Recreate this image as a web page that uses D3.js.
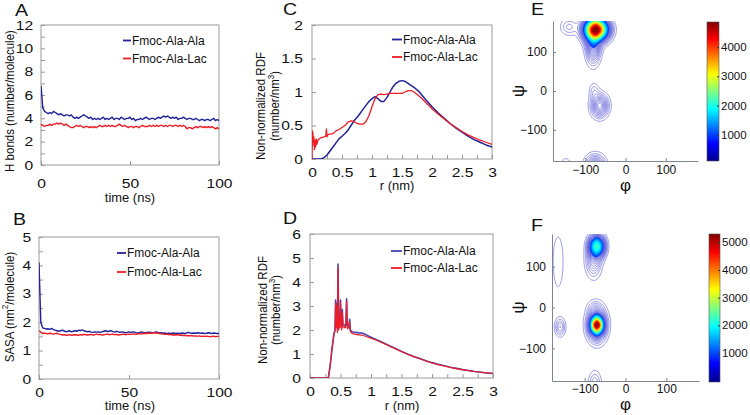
<!DOCTYPE html>
<html>
<head>
<meta charset="utf-8">
<script src="https://cdn.jsdelivr.net/npm/d3@7"></script>
<style>
body { margin: 0; background: #fff; }
svg { display: block; font-family: "Liberation Sans", Arial, sans-serif; }
</style>
</head>
<body>
<svg id="fig" width="750" height="415"></svg>
<script>

// ---------- data ----------
const timeNs = d3.range(0, 101, 1);

const hbAla = [6.8,4.9,4.6,4.5,4.4,4.5,4.4,4.6,4.5,4.4,
  4.3,4.4,4.3,4.2,4.3,4.3,4.2,4.3,4.1,4.0,
  4.1,4.0,4.1,4.2,4.3,4.2,4.1,4.0,4.1,3.9,
  4.0,3.9,4.0,3.9,4.0,4.1,3.9,4.0,3.9,4.0,
  4.1,3.9,4.0,4.0,3.9,4.1,4.0,3.9,4.0,4.0,
  4.1,3.9,4.0,3.8,3.9,3.9,4.0,3.9,4.0,4.1,
  4.0,3.9,4.0,4.0,3.9,4.0,4.1,4.0,4.1,4.2,
  4.1,4.2,4.1,4.0,4.1,4.0,4.1,3.9,4.0,4.0,
  4.1,4.0,3.9,4.0,4.0,3.9,3.9,4.0,3.9,3.8,
  3.9,3.9,3.8,3.9,3.9,3.8,3.9,4.0,3.8,3.9,
  3.8];

const hbLac = [3.5,3.4,3.3,3.4,3.4,3.5,3.4,3.5,3.5,3.6,
  3.5,3.6,3.5,3.4,3.5,3.4,3.3,3.2,3.2,3.3,
  3.4,3.3,3.4,3.3,3.2,3.3,3.3,3.2,3.3,3.2,
  3.3,3.2,3.3,3.4,3.3,3.3,3.4,3.3,3.4,3.3,
  3.4,3.3,3.3,3.4,3.5,3.4,3.3,3.4,3.3,3.2,
  3.3,3.3,3.2,3.3,3.3,3.2,3.3,3.4,3.3,3.3,
  3.3,3.4,3.3,3.4,3.3,3.4,3.3,3.4,3.4,3.3,
  3.4,3.3,3.4,3.4,3.3,3.4,3.4,3.3,3.4,3.3,
  3.4,3.3,3.1,3.2,3.2,3.1,3.2,3.3,3.2,3.3,
  3.3,3.2,3.3,3.2,3.3,3.2,3.3,3.2,3.1,3.2,
  3.1];

const sasaAla = [4.1,2.0,1.8,1.78,1.76,1.77,1.75,1.78,1.74,1.72,
  1.7,1.68,1.7,1.72,1.69,1.66,1.68,1.7,1.66,1.68,
  1.7,1.68,1.72,1.7,1.73,1.7,1.68,1.66,1.68,1.65,
  1.64,1.66,1.65,1.66,1.64,1.66,1.68,1.7,1.67,1.69,
  1.7,1.67,1.65,1.68,1.66,1.64,1.66,1.65,1.63,1.64,
  1.66,1.64,1.66,1.65,1.63,1.62,1.64,1.66,1.64,1.63,
  1.64,1.65,1.64,1.63,1.64,1.66,1.64,1.62,1.63,1.61,
  1.62,1.6,1.61,1.6,1.61,1.62,1.6,1.61,1.6,1.61,
  1.62,1.6,1.62,1.64,1.62,1.61,1.62,1.61,1.63,1.62,
  1.61,1.62,1.6,1.61,1.63,1.62,1.6,1.62,1.61,1.6,
  1.6];

const sasaLac = [1.7,1.65,1.6,1.62,1.6,1.59,1.61,1.6,1.58,1.6,
  1.61,1.58,1.57,1.55,1.56,1.54,1.55,1.56,1.54,1.55,
  1.56,1.55,1.54,1.56,1.55,1.57,1.56,1.55,1.56,1.57,
  1.55,1.56,1.58,1.56,1.57,1.55,1.56,1.57,1.58,1.56,
  1.57,1.58,1.56,1.57,1.55,1.56,1.57,1.58,1.56,1.57,
  1.58,1.57,1.59,1.58,1.57,1.59,1.6,1.59,1.6,1.61,
  1.6,1.62,1.61,1.62,1.63,1.62,1.61,1.6,1.59,1.58,
  1.57,1.58,1.56,1.57,1.55,1.56,1.55,1.56,1.54,1.55,
  1.53,1.54,1.52,1.53,1.52,1.53,1.51,1.52,1.51,1.52,
  1.5,1.51,1.5,1.51,1.5,1.49,1.5,1.51,1.49,1.5,
  1.5];

// panel C
const rCAla = [0,0.15,0.2,0.25,0.3,0.35,0.4,0.45,0.5,0.55,0.6,0.65,0.7,0.75,0.8,0.85,0.9,0.95,1.0,1.05,
  1.1,1.15,1.2,1.25,1.3,1.35,1.4,1.45,1.5,1.55,1.6,1.65,1.7,1.8,1.9,2.0,2.1,2.2,2.3,2.4,2.5,2.6,2.7,2.8,2.9,3.0];
const rdfCAla = [0,0,0.02,0.06,0.12,0.18,0.24,0.3,0.34,0.38,0.43,0.5,0.57,0.62,0.68,0.74,0.8,0.86,0.9,0.93,
  0.9,0.86,0.86,0.92,1.0,1.08,1.13,1.16,1.17,1.16,1.13,1.1,1.07,0.99,0.88,0.78,0.69,0.61,0.53,0.46,0.4,0.34,0.29,0.25,0.21,0.18];
const rCLac = [0,0.005,0.01,0.015,0.02,0.03,0.04,0.05,0.06,0.07,0.08,0.1,0.12,0.15,0.2,0.23,0.24,0.25,0.26,
  0.3,0.35,0.4,0.45,0.5,0.55,0.6,0.65,0.7,0.75,0.8,0.85,0.9,0.95,1.0,1.05,1.1,1.15,1.2,1.25,1.3,
  1.4,1.5,1.55,1.6,1.65,1.7,1.8,1.9,2.0,2.1,2.2,2.3,2.4,2.5,2.6,2.7,2.8,2.9,3.0];
const rdfCLac = [0,0.42,0.2,0.4,0.25,0.33,0.14,0.28,0.18,0.3,0.22,0.28,0.3,0.32,0.33,0.34,0.45,0.33,0.36,
  0.37,0.38,0.42,0.44,0.47,0.5,0.55,0.57,0.56,0.53,0.52,0.52,0.56,0.65,0.78,0.9,0.96,0.97,0.96,0.97,0.98,
  0.98,0.98,1.0,1.02,1.02,1.0,0.93,0.84,0.75,0.67,0.6,0.53,0.47,0.41,0.36,0.32,0.28,0.25,0.22];

// panel D
const rD = [0,0.25,0.3,0.33,0.36,0.39,0.41,0.42,0.43,0.44,0.45,0.46,0.47,0.48,0.49,0.5,0.51,0.52,0.53,0.54,
  0.56,0.58,0.59,0.6,0.61,0.62,0.64,0.65,0.66,0.68,0.7,0.75,0.8,0.85,0.9,0.95,1.0,
  1.1,1.2,1.3,1.4,1.5,1.6,1.7,1.8,1.9,2.0,2.1,2.2,2.3,2.4,2.5,2.6,2.7,2.8,2.9,3.0];
const rdfDAla = [0,0,0,0.5,1.2,1.8,2.0,3.25,2.3,3.1,2.0,4.75,2.1,2.6,2.2,3.25,2.3,2.1,2.85,2.25,
  2.2,2.15,2.35,3.3,2.2,2.15,2.25,2.45,2.0,1.95,1.92,1.9,1.88,1.87,1.83,1.76,1.7,
  1.58,1.47,1.35,1.23,1.11,1.0,0.9,0.81,0.72,0.64,0.57,0.51,0.45,0.4,0.35,0.31,0.27,0.24,0.21,0.19];
const rdfDLac = [0,0,0,0.5,1.2,1.75,2.0,3.1,2.1,3.0,1.9,4.6,2.0,2.5,2.1,3.15,2.2,2.0,2.75,2.15,
  2.1,2.1,2.3,3.2,2.1,2.05,2.15,2.35,1.95,1.88,1.85,1.82,1.8,1.78,1.75,1.7,1.66,
  1.56,1.45,1.33,1.22,1.1,0.99,0.89,0.8,0.71,0.63,0.56,0.5,0.44,0.39,0.35,0.31,0.27,0.24,0.21,0.19];

const seriesNames = ['Fmoc-Ala-Ala', 'Fmoc-Ala-Lac'];

const peaksE = [
  [-73, 158, 4700, 17, 17],
  [-80, 125, 900, 11, 30],
  [-140, 165, 200, 14, 14],
  [-64, -38, 700, 13, 18],
  [-78, 0, 150, 8, 14],
  [-75, -195, 700, 15, 18],
  [-148, -190, 90, 12, 18]
];
const peaksF = [
  [-70, -43, 4300, 8, 12],
  [-70, -42, 1100, 14, 24],
  [-75, 0, 120, 12, 12],
  [-70, 150, 2200, 11, 16],
  [-78, 115, 400, 12, 25],
  [-165, 112, 100, 12, 60],
  [-160, -48, 300, 8, 14],
  [-75, -190, 260, 10, 21]
];
const cbTicks = { E: [1000, 2000, 3000, 4000], F: [1000, 2000, 3000, 4000, 5000] };
const cbRange = { E: [110, 4850], F: [-50, 5300] };
const angleTicks = [-100, 0, 100];

// ---------- helpers ----------
const svg = d3.select('#fig');
const SX = 1.2;
const frameCol = '#9a9a9a';
const blue = '#22229a', red = '#ee1c24';

const jet = d3.scaleLinear()
  .domain([0, 0.125, 0.375, 0.625, 0.875, 1])
  .range(['#00008f', '#0000ff', '#00ffff', '#ffff00', '#ff0000', '#800000'])
  .clamp(true);

function addText(parent, x, y, str, o = {}) {
  const sx = o.sx || 1, rot = o.rotate || 0;
  return parent.append('text')
    .attr('transform', `translate(${x},${y}) scale(${sx},1)` + (rot ? ` rotate(${rot})` : ''))
    .attr('font-size', o.size || 12)
    .attr('text-anchor', o.anchor || 'start')
    .attr('fill', o.fill || '#111')
    .text(str);
}

function linePanel(o) {
  const g = svg.append('g');
  const x = d3.scaleLinear().domain(o.xDomain).range([o.left, o.right]);
  const y = d3.scaleLinear().domain(o.yDomain).range([o.bottom, o.top]);

  g.append('rect')
    .attr('x', o.left).attr('y', o.top)
    .attr('width', o.right - o.left).attr('height', o.bottom - o.top)
    .attr('fill', 'none').attr('stroke', frameCol).attr('stroke-width', 1);

  const ya = g.append('g').attr('transform', `translate(${o.left},0)`)
    .call(d3.axisLeft(y).tickValues(o.yTicks).tickFormat(o.yFormat)
      .tickSizeInner(-4).tickSizeOuter(0).tickPadding(o.yPad));
  const xa = g.append('g').attr('transform', `translate(0,${o.bottom})`)
    .call(d3.axisBottom(x).tickValues(o.xTicks).tickFormat(o.xFormat)
      .tickSizeInner(-4).tickSizeOuter(0).tickPadding(o.xPad));

  [ya, xa].forEach(a => {
    a.select('.domain').remove();
    a.selectAll('.tick line').attr('stroke', frameCol);
    a.selectAll('.tick text')
      .attr('font-size', 13).attr('fill', '#111')
      .attr('font-family', '"Liberation Sans", Arial, sans-serif')
      .attr('transform', `scale(${SX},1)`);
  });

  const clipId = 'clip' + o.letter;
  g.append('clipPath').attr('id', clipId).append('rect')
    .attr('x', o.left).attr('y', o.top - 2)
    .attr('width', o.right - o.left + 1).attr('height', o.bottom - o.top + 2);

  o.series.forEach(s => {
    const line = d3.line()
      .x((d, i) => x(s.xs[i]))
      .y(d => y(d));
    g.append('path')
      .datum(s.vals)
      .attr('clip-path', `url(#${clipId})`)
      .attr('d', line)
      .attr('fill', 'none')
      .attr('stroke', s.color)
      .attr('stroke-width', s.width || 1.4)
      .attr('stroke-linejoin', 'round');
  });

  // legend
  o.series.forEach((s, i) => {
    const ly = o.legend.y[i];
    g.append('line')
      .attr('x1', o.legend.x1).attr('x2', o.legend.x2)
      .attr('y1', ly - 4).attr('y2', ly - 4)
      .attr('stroke', s.color).attr('stroke-width', 1.8);
    addText(g, o.legend.tx, ly, seriesNames[i], { size: 12 });
  });

  addText(g, o.letterPos[0], o.letterPos[1], o.letter, { size: 17, sx: 1.15 });

  // axis titles
  addText(g, o.xTitle.x, o.xTitle.y, o.xTitle.text, { size: 12, anchor: 'middle', sx: 1.08 });
  o.yTitle.forEach(t => {
    const el = addText(g, t.x, t.y, '', { size: 11.5, anchor: 'middle', rotate: -90, sx: 1.1 });
    t.parts.forEach(p => {
      const ts = el.append('tspan').text(p[0]);
      if (p[1]) ts.attr('baseline-shift', 'super').attr('font-size', 8);
    });
  });
}

function contourPanel(o) {
  const g = svg.append('g');
  const x = d3.scaleLinear().domain([-180, 180]).range([o.left, o.right]);
  const y = d3.scaleLinear().domain([-180, 180]).range([o.bottom, o.top]);

  // density grid from the peak list
  const start = -190, step = 2, n = 191;
  const vals = new Float64Array(n * n);
  for (let j = 0; j < n; j++) {
    const psi = start + j * step;
    for (let i = 0; i < n; i++) {
      const phi = start + i * step;
      let v = 0;
      o.peaks.forEach(p => {
        v += p[2] * Math.exp(-((phi - p[0]) ** 2) / (2 * p[3] * p[3]) - ((psi - p[1]) ** 2) / (2 * p[4] * p[4]));
      });
      vals[j * n + i] = v;
    }
  }
  const levels = d3.range(60, o.cRange[1], 60);
  const contours = d3.contours().size([n, n]).thresholds(levels)(vals);
  const proj = d3.geoTransform({
    point(px, py) { this.stream.point(x(start + (px - 0.5) * step), y(start + (py - 0.5) * step)); }
  });
  const path = d3.geoPath(proj);
  const cnorm = d3.scaleLinear().domain(o.cRange).range([0, 1]);

  const clipId = 'clip' + o.letter;
  g.append('clipPath').attr('id', clipId).append('rect')
    .attr('x', o.left).attr('y', o.top)
    .attr('width', o.right - o.left).attr('height', o.bottom - o.top);

  const cg = g.append('g').attr('clip-path', `url(#${clipId})`);
  cg.selectAll('path.fill')
    .data(contours.filter(c => c.value >= 900))
    .join('path')
    .attr('class', 'fill')
    .attr('d', path)
    .attr('fill', d => jet(cnorm(d.value)))
    .attr('stroke', 'none');
  cg.selectAll('path.iso')
    .data(contours)
    .join('path')
    .attr('class', 'iso')
    .attr('d', path)
    .attr('fill', 'none')
    .attr('stroke', d => d.value < 900 ? '#5252d4' : jet(cnorm(d.value)))
    .attr('stroke-opacity', 0.85)
    .attr('stroke-width', 0.7);

  const axCol = '#7d8590';
  const fmt = d => d < 0 ? '\u2212' + Math.abs(d) : d;
  const ya = g.append('g').attr('transform', `translate(${o.left},0)`)
    .call(d3.axisLeft(y).tickValues(angleTicks).tickFormat(fmt)
      .tickSizeInner(-3).tickSizeOuter(0).tickPadding(6));
  const xa = g.append('g').attr('transform', `translate(0,${o.bottom})`)
    .call(d3.axisBottom(x).tickValues(angleTicks).tickFormat(fmt)
      .tickSizeInner(-3).tickSizeOuter(0).tickPadding(o.xPad));
  [ya, xa].forEach(a => {
    a.select('.domain').attr('stroke', axCol);
    a.selectAll('.tick line').attr('stroke', axCol);
    a.selectAll('.tick text').attr('font-size', 12).attr('fill', '#111')
      .attr('font-family', '"Liberation Sans", Arial, sans-serif');
  });

  addText(g, (o.left + o.right) / 2, o.phiY, '\u03c6', { size: 17, anchor: 'middle' });
  addText(g, o.psiX, y(0), '\u03c8', { size: 17, anchor: 'middle', rotate: -90 });
  addText(g, o.letterPos[0], o.letterPos[1], o.letter, { size: 17, sx: 1.15 });

  // colour bar
  const cb = o.cb;
  const cy = d3.scaleLinear().domain(o.cRange).range([cb.bottom, cb.top]);
  const gradId = 'grad' + o.letter;
  const grad = g.append('defs').append('linearGradient').attr('id', gradId)
    .attr('x1', 0).attr('y1', 1).attr('x2', 0).attr('y2', 0);
  jet.domain().forEach((t, i) => {
    grad.append('stop').attr('offset', t).attr('stop-color', jet.range()[i]);
  });
  g.append('rect')
    .attr('x', cb.left).attr('y', cb.top)
    .attr('width', cb.right - cb.left).attr('height', cb.bottom - cb.top)
    .attr('fill', `url(#${gradId})`).attr('stroke', '#555').attr('stroke-width', 0.6);
  const ca = g.append('g').attr('transform', `translate(${cb.right},0)`)
    .call(d3.axisRight(cy).tickValues(cbTicks[o.letter]).tickFormat(d3.format('d'))
      .tickSizeInner(-2).tickSizeOuter(0).tickPadding(2));
  ca.select('.domain').remove();
  ca.selectAll('.tick line').attr('stroke', '#333');
  ca.selectAll('.tick text').attr('font-size', 11.5).attr('fill', '#111')
    .attr('font-family', '"Liberation Sans", Arial, sans-serif');
}

// ---------- panels ----------
linePanel({
  letter: 'A', letterPos: [15, 16],
  left: 41, right: 219, top: 25, bottom: 165,
  xDomain: [0, 100], yDomain: [0, 12],
  xTicks: [0, 50, 100], xFormat: d => d, xPad: 13.5,
  yTicks: d3.range(0, 13, 1), yFormat: d => d % 2 === 0 ? d : '', yPad: 6.5,
  series: [
    { xs: timeNs, vals: hbAla, color: blue },
    { xs: timeNs, vals: hbLac, color: red }
  ],
  legend: { x1: 123, x2: 131, tx: 132, y: [44.5, 62.5] },
  xTitle: { x: 130, y: 201.5, text: 'time (ns)' },
  yTitle: [{ x: 14, y: 101, parts: [['H bonds (number/molecule)']] }]
});

linePanel({
  letter: 'B', letterPos: [13, 225],
  left: 39, right: 219, top: 237, bottom: 379,
  xDomain: [0, 100], yDomain: [0, 5],
  xTicks: [0, 50, 100], xFormat: d => d, xPad: 8.5,
  yTicks: d3.range(0, 5.01, 0.5), yFormat: d => Number.isInteger(d) ? d : '', yPad: 6.5,
  series: [
    { xs: timeNs, vals: sasaAla, color: blue },
    { xs: timeNs, vals: sasaLac, color: red }
  ],
  legend: { x1: 117, x2: 126, tx: 127, y: [257, 276] },
  xTitle: { x: 130, y: 410, text: 'time (ns)' },
  yTitle: [{ x: 13.5, y: 307, parts: [['SASA  (nm'], ['2', true], ['/molecule)']] }]
});

linePanel({
  letter: 'C', letterPos: [283, 15],
  left: 312, right: 492, top: 25, bottom: 159,
  xDomain: [0, 3], yDomain: [0, 2],
  xTicks: d3.range(0, 3.01, 0.25), xFormat: d => (Math.round(d * 100) % 50 === 0 ? d : ''), xPad: 8.5,
  yTicks: d3.range(0, 2.01, 0.5), yFormat: d => d, yPad: 7.5,
  series: [
    { xs: rCAla, vals: rdfCAla, color: blue, width: 1.5 },
    { xs: rCLac, vals: rdfCLac, color: red, width: 1.3 }
  ],
  legend: { x1: 392, x2: 402, tx: 403, y: [43.5, 61] },
  xTitle: { x: 397, y: 190, text: 'r (nm)' },
  yTitle: [
    { x: 265, y: 106, parts: [['Non-normalized  RDF']] },
    { x: 279, y: 106, parts: [['(number/nm'], ['3', true], [')']] }
  ]
});

linePanel({
  letter: 'D', letterPos: [283, 224],
  left: 310, right: 493, top: 234, bottom: 378,
  xDomain: [0, 3], yDomain: [0, 6],
  xTicks: d3.range(0, 3.01, 0.25), xFormat: d => (Math.round(d * 100) % 50 === 0 ? d : ''), xPad: 9,
  yTicks: d3.range(0, 6.01, 1), yFormat: d => d, yPad: 7.5,
  series: [
    { xs: rD, vals: rdfDAla, color: '#4646b4', width: 1.6 },
    { xs: rD, vals: rdfDLac, color: red, width: 1.2 }
  ],
  legend: { x1: 391, x2: 402, tx: 403, y: [255, 272] },
  xTitle: { x: 402, y: 410, text: 'r (nm)' },
  yTitle: [
    { x: 267, y: 310, parts: [['Non-normalized RDF']] },
    { x: 280, y: 310, parts: [['(number/nm'], ['3', true], [')']] }
  ]
});

contourPanel({
  letter: 'E', letterPos: [531, 15],
  left: 553, right: 698, top: 21, bottom: 161,
  peaks: peaksE, cRange: cbRange.E,
  xPad: 4.5, phiY: 191, psiX: 524,
  cb: { left: 707, right: 719, top: 22, bottom: 161 }
});

contourPanel({
  letter: 'F', letterPos: [531, 231],
  left: 552, right: 699, top: 234, bottom: 381,
  peaks: peaksF, cRange: cbRange.F,
  xPad: 3, phiY: 409.5, psiX: 524,
  cb: { left: 709, right: 720, top: 234, bottom: 382 }
});

</script>
</body>
</html>
